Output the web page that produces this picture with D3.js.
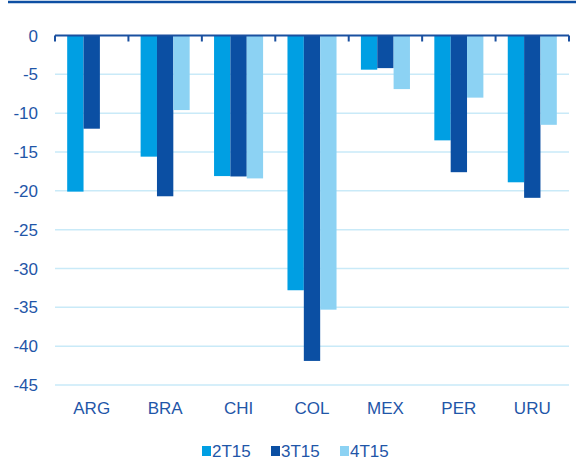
<!DOCTYPE html>
<html>
<head>
<meta charset="utf-8">
<script src="https://cdn.jsdelivr.net/npm/d3@7"></script>
<style>
  html, body { margin: 0; padding: 0; background: #ffffff; }
  svg { display: block; font-family: "Liberation Sans", Arial, sans-serif; }
</style>
</head>
<body>
<svg id="chart" width="576" height="464"></svg>
<script>
const categories = ["ARG", "BRA", "CHI", "COL", "MEX", "PER", "URU"];
const seriesNames = ["2T15", "3T15", "4T15"];
const s2T15 = [-20.1, -15.6, -18.1, -32.8, -4.4, -13.5, -18.9];
const s3T15 = [-12.0, -20.7, -18.15, -41.9, -4.2, -17.6, -20.9];
const s4T15 = [null, -9.6, -18.4, -35.3, -6.9, -8.0, -11.5];
const yTicks = [0, -5, -10, -15, -20, -25, -30, -35, -40, -45];
const seriesColors = ["#009fe3", "#0b4fa3", "#8cd2f3"];

const seriesValues = [s2T15, s3T15, s4T15];
const textColor = "#1f56a8";

const svg = d3.select("#chart");

const x = d3.scaleBand().domain(categories).range([55, 569]).padding(0);
const x1 = d3.scaleBand().domain(seriesNames)
  .range([x.bandwidth() * 0.166, x.bandwidth() * 0.834]).padding(0);
const y = d3.scaleLinear().domain([-45, 0]).range([385, 35.5]);

// top decorative line
svg.append("line")
  .attr("x1", 8).attr("x2", 576).attr("y1", 2).attr("y2", 2)
  .attr("stroke", "#0d4fa3").attr("stroke-width", 2.5);

// gridlines
svg.append("g").selectAll("line")
  .data(yTicks.filter(d => d !== 0))
  .join("line")
  .attr("x1", 55).attr("x2", 569)
  .attr("y1", d => y(d)).attr("y2", d => y(d))
  .attr("stroke", "#c9eaf8").attr("stroke-width", 1.5);

// y tick labels
svg.append("g").selectAll("text")
  .data(yTicks)
  .join("text")
  .attr("x", 38)
  .attr("y", d => y(d))
  .attr("dy", "0.36em")
  .attr("text-anchor", "end")
  .attr("fill", textColor)
  .attr("font-size", 17)
  .text(d => d);

// bars
const groups = svg.append("g").selectAll("g")
  .data(seriesNames.map((name, i) => ({ name, values: seriesValues[i], color: seriesColors[i] })))
  .join("g")
  .attr("fill", d => d.color);

groups.selectAll("rect")
  .data(d => d.values.map((v, j) => ({ v, cat: categories[j], name: d.name })).filter(e => e.v !== null))
  .join("rect")
  .attr("x", d => x(d.cat) + x1(d.name))
  .attr("width", x1.bandwidth())
  .attr("y", y(0))
  .attr("height", d => y(d.v) - y(0));

// zero axis with ticks
const axis = svg.append("g");
axis.append("line")
  .attr("x1", 55).attr("x2", 569)
  .attr("y1", y(0)).attr("y2", y(0))
  .attr("stroke", "#1a50a0").attr("stroke-width", 2);
const boundaries = categories.map(c => x(c)).concat([x(categories[categories.length - 1]) + x.bandwidth()]);
axis.selectAll("line.tick")
  .data(boundaries)
  .join("line")
  .attr("class", "tick")
  .attr("x1", d => d).attr("x2", d => d)
  .attr("y1", y(0)).attr("y2", y(0) + 6)
  .attr("stroke", "#1a50a0").attr("stroke-width", 2);

// category labels
svg.append("g").selectAll("text")
  .data(categories)
  .join("text")
  .attr("x", d => x(d) + x.bandwidth() / 2)
  .attr("y", 414)
  .attr("text-anchor", "middle")
  .attr("fill", textColor)
  .attr("font-size", 17)
  .text(d => d);

// legend
const legendX = [202, 271, 340];
const legend = svg.append("g").selectAll("g")
  .data(seriesNames)
  .join("g")
  .attr("transform", (d, i) => `translate(${legendX[i]},0)`);
legend.append("rect")
  .attr("x", 0).attr("y", 446).attr("width", 9).attr("height", 10)
  .attr("fill", (d, i) => seriesColors[i]);
legend.append("text")
  .attr("x", 10).attr("y", 457)
  .attr("fill", textColor)
  .attr("font-size", 17)
  .text(d => d);
</script>
</body>
</html>
